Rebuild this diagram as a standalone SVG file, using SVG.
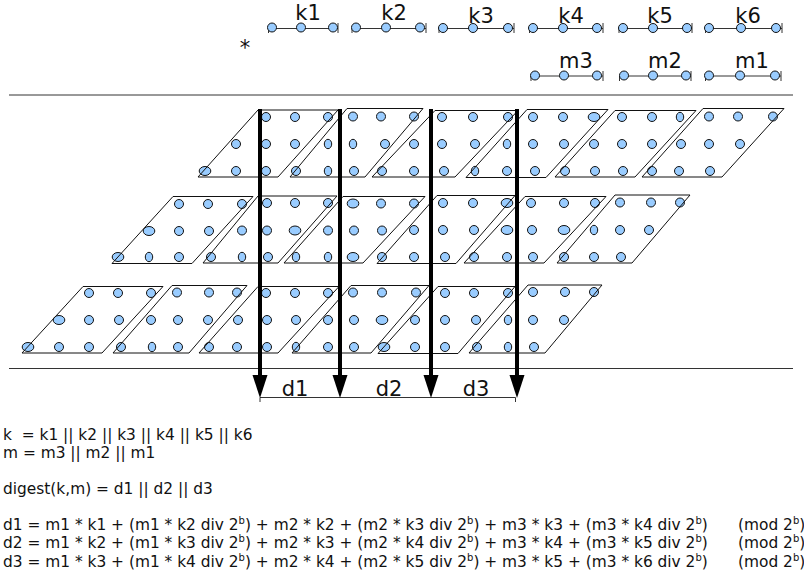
<svg xmlns="http://www.w3.org/2000/svg" width="804" height="577" viewBox="0 0 804 577">
<style>
text{font-family:"DejaVu Sans",sans-serif;fill:#111}
.l{font-size:21px;text-anchor:middle}
.t{font-size:15.4px}
.s{font-size:10px}
.d{fill:#99ccff;stroke:#111;stroke-width:1;rx:4.500px;ry:4.500px}
.w{rx:5.800px;ry:4.500px}
.n{rx:3.700px;ry:4.700px}
.p{fill:none;stroke:#111;stroke-width:1}
.r{fill:none;stroke:#333;stroke-width:1}
.h{fill:none;stroke:#333;stroke-width:1}
</style>
<defs>
<polygon id="head" points="-7.500,0 7.500,0 0,23" fill="#000"/>
</defs>

<g id="rule-top"><path class="h" d="M9 95H793"/></g>
<g id="rule-bottom"><path class="h" d="M9 368.500H793"/></g>
<g id="asterisk"><text class="l" x="245" y="55">*</text></g>

<g id="k1"><path class="r" d="M268.500 33V28.500H338M338 23V33"/><ellipse class="d" cx="272" cy="27.500"/><ellipse class="d" cx="301" cy="27.500"/><ellipse class="d" cx="333" cy="27.500"/><text class="l" x="308" y="20">k1</text></g>
<g id="k2"><path class="r" d="M352 33V28.500H426M426 23V33"/><ellipse class="d" cx="356" cy="27.500"/><ellipse class="d" cx="386" cy="27.500"/><ellipse class="d" cx="420" cy="27.500"/><text class="l" x="394" y="20">k2</text></g>
<g id="k3"><path class="r" d="M439 33V28.500H514M514 23V33"/><ellipse class="d" cx="443" cy="28"/><ellipse class="d" cx="473" cy="28"/><ellipse class="d" cx="508" cy="28"/><text class="l" x="481" y="23">k3</text></g>
<g id="k4"><path class="r" d="M529.500 33V28.500H603M603 23V33"/><ellipse class="d" cx="533" cy="28"/><ellipse class="d" cx="563" cy="28"/><ellipse class="d" cx="597" cy="28"/><text class="l" x="571" y="23">k4</text></g>
<g id="k5"><path class="r" d="M619 33V28.500H692M692 23V33"/><ellipse class="d" cx="623" cy="28"/><ellipse class="d" cx="653" cy="28"/><ellipse class="d" cx="687" cy="28"/><text class="l" x="660" y="23">k5</text></g>
<g id="k6"><path class="r" d="M705.500 33V28.500H782M782 23V33"/><ellipse class="d" cx="709" cy="28"/><ellipse class="d" cx="741" cy="28"/><ellipse class="d" cx="776" cy="28"/><text class="l" x="748" y="23">k6</text></g>
<g id="m3"><path class="r" d="M531 81V76H603M603 71V81"/><ellipse class="d" cx="535" cy="75.500"/><ellipse class="d" cx="564" cy="75.500"/><ellipse class="d" cx="597" cy="75.500"/><text class="l" x="576" y="68">m3</text></g>
<g id="m2"><path class="r" d="M619.500 81V76H691M691 71V81"/><ellipse class="d" cx="624" cy="75.500"/><ellipse class="d" cx="653" cy="75.500"/><ellipse class="d" cx="686" cy="75.500"/><text class="l" x="665" y="68">m2</text></g>
<g id="m1"><path class="r" d="M705.500 81V76H781M781 71V81"/><ellipse class="d" cx="709" cy="75.500"/><ellipse class="d" cx="740" cy="75.500"/><ellipse class="d" cx="775" cy="75.500"/><text class="l" x="752" y="68">m1</text></g>

<g id="r1p1"><ellipse class="d" cx="266" cy="117"/><ellipse class="d" cx="295" cy="117"/><ellipse class="d" cx="328" cy="117"/><ellipse class="d" cx="236" cy="144"/><ellipse class="d" cx="266" cy="144"/><ellipse class="d" cx="295" cy="144"/><ellipse class="d w" cx="205" cy="171"/><ellipse class="d" cx="236" cy="171"/><ellipse class="d" cx="266" cy="171"/><path class="p" d="M198 177H278L338 110H258Z"/></g>
<g id="r1p2"><ellipse class="d" cx="353" cy="116.500"/><ellipse class="d" cx="381" cy="116.500"/><ellipse class="d" cx="414" cy="116.500"/><ellipse class="d n" cx="328" cy="144"/><ellipse class="d n" cx="353" cy="144"/><ellipse class="d" cx="385" cy="144"/><ellipse class="d" cx="296" cy="171"/><ellipse class="d n" cx="328" cy="171"/><ellipse class="d" cx="354" cy="171"/><path class="p" d="M290 177H365L423 108.500H347Z"/></g>
<g id="r1p3"><ellipse class="d" cx="442" cy="117"/><ellipse class="d" cx="473" cy="117"/><ellipse class="d" cx="508" cy="117"/><ellipse class="d" cx="414" cy="144"/><ellipse class="d" cx="442" cy="144"/><ellipse class="d" cx="475" cy="144"/><ellipse class="d" cx="382" cy="171"/><ellipse class="d" cx="414" cy="171"/><ellipse class="d" cx="444" cy="171"/><path class="p" d="M372 177H455L518 110.500H435Z"/></g>
<g id="r1p4"><ellipse class="d" cx="533" cy="117"/><ellipse class="d" cx="563" cy="117"/><ellipse class="d w" cx="594" cy="117"/><ellipse class="d n" cx="507" cy="144"/><ellipse class="d" cx="533" cy="144"/><ellipse class="d" cx="564" cy="144"/><ellipse class="d n" cx="475" cy="171"/><ellipse class="d" cx="507" cy="171"/><ellipse class="d" cx="535" cy="171"/><path class="p" d="M466 177.500H546L608 109.500H527Z"/></g>
<g id="r1p5"><ellipse class="d" cx="622" cy="117"/><ellipse class="d" cx="652" cy="117"/><ellipse class="d n" cx="680" cy="117"/><ellipse class="d" cx="594" cy="144"/><ellipse class="d" cx="622" cy="144"/><ellipse class="d" cx="652" cy="144"/><ellipse class="d" cx="565" cy="171"/><ellipse class="d" cx="595" cy="171"/><ellipse class="d" cx="623" cy="171"/><path class="p" d="M555 177H635L696 110.500H615Z"/></g>
<g id="r1p6"><ellipse class="d" cx="709" cy="116.500"/><ellipse class="d" cx="738" cy="116.500"/><ellipse class="d" cx="773" cy="116.500"/><ellipse class="d" cx="681" cy="144"/><ellipse class="d" cx="709" cy="144"/><ellipse class="d" cx="740" cy="144"/><ellipse class="d" cx="652" cy="171"/><ellipse class="d" cx="679" cy="171"/><ellipse class="d" cx="710" cy="171"/><path class="p" d="M642 177H722L784 108.500H703Z"/></g>

<g id="r2p1"><ellipse class="d" cx="179" cy="204"/><ellipse class="d" cx="208" cy="204"/><ellipse class="d" cx="242" cy="204"/><ellipse class="d w" cx="149" cy="231"/><ellipse class="d" cx="179" cy="231"/><ellipse class="d" cx="209" cy="231"/><ellipse class="d w" cx="118" cy="257"/><ellipse class="d n" cx="149" cy="257"/><ellipse class="d" cx="179" cy="257"/><path class="p" d="M112 263.500H192L253 196.500H173Z"/></g>
<g id="r2p2"><ellipse class="d" cx="267" cy="203"/><ellipse class="d" cx="295" cy="203"/><ellipse class="d" cx="328" cy="203"/><ellipse class="d" cx="242" cy="230.500"/><ellipse class="d" cx="267" cy="230.500"/><ellipse class="d w" cx="295" cy="230.500"/><ellipse class="d" cx="211" cy="257"/><ellipse class="d n" cx="242" cy="257"/><ellipse class="d" cx="268" cy="257"/><path class="p" d="M203 263H278L337 196H258Z"/></g>
<g id="r2p3"><ellipse class="d w" cx="353" cy="203.500"/><ellipse class="d" cx="381" cy="203.500"/><ellipse class="d" cx="414" cy="203.500"/><ellipse class="d" cx="328" cy="230.500"/><ellipse class="d" cx="354" cy="230.500"/><ellipse class="d" cx="382" cy="230.500"/><ellipse class="d n" cx="296" cy="257"/><ellipse class="d n" cx="328" cy="257"/><ellipse class="d w" cx="353" cy="257"/><path class="p" d="M284 263H363L425 196.500H343Z"/></g>
<g id="r2p4"><ellipse class="d" cx="443" cy="203"/><ellipse class="d" cx="473" cy="203"/><ellipse class="d w" cx="507" cy="203"/><ellipse class="d" cx="414" cy="230"/><ellipse class="d" cx="443" cy="230"/><ellipse class="d" cx="474" cy="230"/><ellipse class="d" cx="382" cy="257"/><ellipse class="d" cx="414" cy="257"/><ellipse class="d" cx="445" cy="257"/><path class="p" d="M377 263.500H456L515 195.500H437Z"/></g>
<g id="r2p5"><ellipse class="d" cx="531" cy="203"/><ellipse class="d" cx="564" cy="203"/><ellipse class="d" cx="595" cy="203"/><ellipse class="d w" cx="507" cy="230"/><ellipse class="d" cx="532" cy="230"/><ellipse class="d w" cx="564" cy="230"/><ellipse class="d" cx="474" cy="257"/><ellipse class="d" cx="507" cy="257"/><ellipse class="d" cx="533" cy="257"/><path class="p" d="M464 263H544L606 196.500H525Z"/></g>
<g id="r2p6"><ellipse class="d" cx="620" cy="202.500"/><ellipse class="d" cx="651" cy="202.500"/><ellipse class="d" cx="680" cy="202.500"/><ellipse class="d n" cx="594" cy="230"/><ellipse class="d" cx="620" cy="230"/><ellipse class="d" cx="649" cy="230"/><ellipse class="d" cx="564" cy="257"/><ellipse class="d" cx="594" cy="257"/><ellipse class="d" cx="621" cy="257"/><path class="p" d="M557 263H632L690 195H615Z"/></g>

<g id="r3p1"><ellipse class="d" cx="89" cy="293"/><ellipse class="d" cx="118" cy="293"/><ellipse class="d" cx="151" cy="293"/><ellipse class="d w" cx="59" cy="320"/><ellipse class="d" cx="89" cy="320"/><ellipse class="d" cx="119" cy="320"/><ellipse class="d w" cx="28" cy="347"/><ellipse class="d" cx="59" cy="347"/><ellipse class="d" cx="89" cy="347"/><path class="p" d="M22 353H102L163 286.500H83Z"/></g>
<g id="r3p2"><ellipse class="d" cx="177" cy="292.500"/><ellipse class="d" cx="209" cy="292.500"/><ellipse class="d" cx="237" cy="292.500"/><ellipse class="d" cx="151" cy="320"/><ellipse class="d" cx="178" cy="320"/><ellipse class="d" cx="208" cy="320"/><ellipse class="d" cx="121" cy="347"/><ellipse class="d n" cx="152" cy="347"/><ellipse class="d" cx="178" cy="347"/><path class="p" d="M113 353H189L247 285.500H172Z"/></g>
<g id="r3p3"><ellipse class="d" cx="266" cy="293"/><ellipse class="d" cx="295" cy="293"/><ellipse class="d" cx="328" cy="293"/><ellipse class="d" cx="238" cy="320"/><ellipse class="d" cx="267" cy="320"/><ellipse class="d" cx="296" cy="320"/><ellipse class="d" cx="209" cy="347"/><ellipse class="d" cx="237" cy="347"/><ellipse class="d" cx="267" cy="347"/><path class="p" d="M199 353H278L339 286.500H258Z"/></g>
<g id="r3p4"><ellipse class="d" cx="353" cy="292.500"/><ellipse class="d" cx="382" cy="292.500"/><ellipse class="d" cx="416" cy="292.500"/><ellipse class="d" cx="328" cy="320"/><ellipse class="d" cx="354" cy="320"/><ellipse class="d w" cx="382" cy="320"/><ellipse class="d n" cx="296" cy="347"/><ellipse class="d" cx="328" cy="347"/><ellipse class="d" cx="354" cy="347"/><path class="p" d="M292 353H371L429 285.500H351Z"/></g>
<g id="r3p5"><ellipse class="d" cx="445" cy="293"/><ellipse class="d" cx="474" cy="293"/><ellipse class="d" cx="508" cy="293"/><ellipse class="d" cx="415" cy="320"/><ellipse class="d" cx="445" cy="320"/><ellipse class="d" cx="476" cy="320"/><ellipse class="d w" cx="384" cy="347"/><ellipse class="d" cx="415" cy="347"/><ellipse class="d" cx="445" cy="347"/><path class="p" d="M378 353.500H458L515 286.500H438Z"/></g>
<g id="r3p6"><ellipse class="d" cx="533" cy="292"/><ellipse class="d" cx="565" cy="292"/><ellipse class="d" cx="594" cy="292"/><ellipse class="d n" cx="508" cy="320"/><ellipse class="d" cx="533" cy="320"/><ellipse class="d" cx="564" cy="320"/><ellipse class="d" cx="477" cy="347"/><ellipse class="d n" cx="508" cy="347"/><ellipse class="d" cx="534" cy="347"/><path class="p" d="M469 353H545L602 285H528Z"/></g>

<g id="connectors">
<path class="h" d="M260 397.500H515.500M260 397.500V402M515.500 397.500V402"/>
<path d="M260 109V378" stroke="#000" stroke-width="4" fill="none"/><use href="#head" x="260" y="375"/>
<path d="M340 109V378" stroke="#000" stroke-width="4" fill="none"/><use href="#head" x="340" y="375"/>
<path d="M431 109V378" stroke="#000" stroke-width="4" fill="none"/><use href="#head" x="431" y="375"/>
<path d="M517 109V378" stroke="#000" stroke-width="4" fill="none"/><use href="#head" x="517" y="375"/>
</g>
<g id="digest-labels"><text class="l" x="295" y="396">d1</text><text class="l" x="389" y="396">d2</text><text class="l" x="476" y="396">d3</text></g>

<g id="formulas">
<text class="t" x="3" y="440" xml:space="preserve">k  = k1 || k2 || k3 || k4 || k5 || k6</text>
<text class="t" x="3" y="458">m = m3 || m2 || m1</text>
<text class="t" x="3" y="494">digest(k,m) = d1 || d2 || d3</text>
<text class="t" x="3" y="530">d1 = m1 * k1 + (m1 * k2 div 2<tspan class="s" dy="-6">b</tspan><tspan dy="6">) + m2 * k2 + (m2 * k3 div 2</tspan><tspan class="s" dy="-6">b</tspan><tspan dy="6">) + m3 * k3 + (m3 * k4 div 2</tspan><tspan class="s" dy="-6">b</tspan><tspan dy="6">)</tspan></text>
<text class="t" x="3" y="548">d2 = m1 * k2 + (m1 * k3 div 2<tspan class="s" dy="-6">b</tspan><tspan dy="6">) + m2 * k3 + (m2 * k4 div 2</tspan><tspan class="s" dy="-6">b</tspan><tspan dy="6">) + m3 * k4 + (m3 * k5 div 2</tspan><tspan class="s" dy="-6">b</tspan><tspan dy="6">)</tspan></text>
<text class="t" x="3" y="566.500">d3 = m1 * k3 + (m1 * k4 div 2<tspan class="s" dy="-6">b</tspan><tspan dy="6">) + m2 * k4 + (m2 * k5 div 2</tspan><tspan class="s" dy="-6">b</tspan><tspan dy="6">) + m3 * k5 + (m3 * k6 div 2</tspan><tspan class="s" dy="-6">b</tspan><tspan dy="6">)</tspan></text>
<text class="t" x="738" y="530">(mod 2<tspan class="s" dy="-6">b</tspan><tspan dy="6">)</tspan></text>
<text class="t" x="738" y="548">(mod 2<tspan class="s" dy="-6">b</tspan><tspan dy="6">)</tspan></text>
<text class="t" x="738" y="566.500">(mod 2<tspan class="s" dy="-6">b</tspan><tspan dy="6">)</tspan></text>
</g>
</svg>
